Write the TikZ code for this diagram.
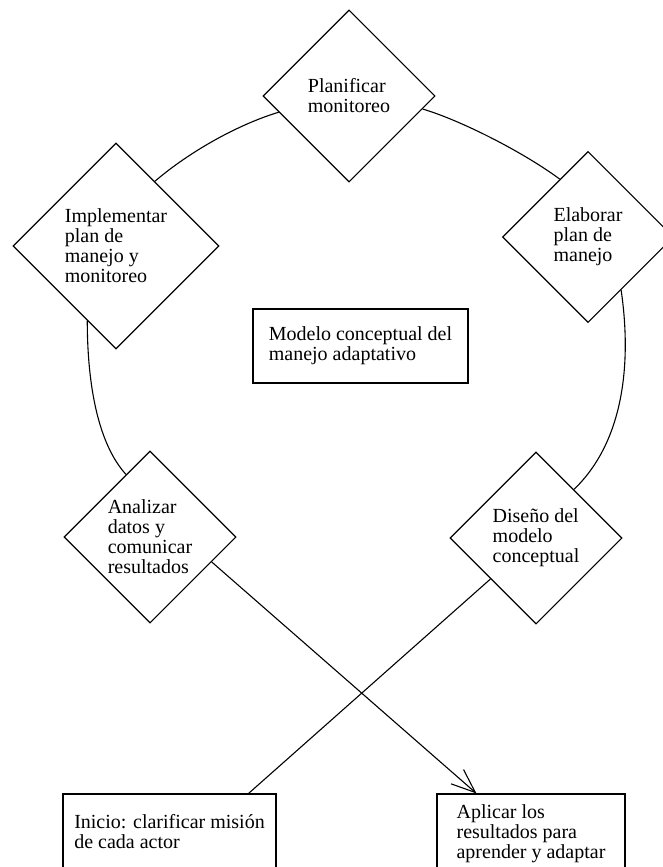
\documentclass[tikz,border=0pt]{standalone}
\usepackage{fontspec}
\setmainfont{Liberation Serif}
\usetikzlibrary{shapes.geometric,arrows.meta}
\begin{document}
\begin{tikzpicture}[x=1pt,y=-1pt,
  every node/.style={font=\fontsize{20}{20}\selectfont},
  dia/.style={draw, diamond, aspect=1, inner sep=0pt, align=left, line width=1.1pt},
  box/.style={draw, rectangle, align=left, inner sep=0pt, line width=1.1pt},
  conn/.style={line width=1.1pt}]
\useasboundingbox (0,0) rectangle (663,867);
\clip (0,0) rectangle (663,867);
\fill[white] (0,0) rectangle (663,867);
% diamonds
\node[dia, minimum width=172pt, minimum height=172pt] (plan) at (349,96) {Planificar\\monitoreo};
\node[dia, minimum width=206pt, minimum height=206pt] (impl) at (116,246) {Implementar\\plan de\\manejo y\\monitoreo};
\node[dia, minimum width=171pt, minimum height=171pt] (elab) at (588,237) {Elaborar\\plan de\\manejo};
\node[dia, minimum width=172pt, minimum height=172pt] (anal) at (150,537) {Analizar\\datos y\\comunicar\\resultados};
\node[dia, minimum width=172pt, minimum height=172pt] (dise) at (536,538) {Diseño del\\modelo\\conceptual};
% boxes
\node[box, minimum width=215pt, minimum height=74pt] (mod) at (360.5,346) {Modelo conceptual del\\manejo adaptativo};
\node[box, minimum width=213pt, minimum height=76pt] (ini) at (169.5,832) {Inicio: clarificar misión\\de cada actor};
\node[box, minimum width=188pt, minimum height=80pt] (apl) at (531,834) {Aplicar los\\resultados para\\aprender y adaptar};
% cycle arcs
\draw[conn] (impl.59) .. controls +(35,-30) and +(-40,12) .. (plan.193);
\draw[conn] (plan.350) .. controls +(40,12) and +(-35,-26) .. (elab.116);
\draw[conn] (elab.302) .. controls +(10,68) and +(52,-50) .. (dise.52);
\draw[conn] (impl.249) .. controls +(0,57) and +(-30,-33) .. (anal.111);
% crossing lines
\draw[conn, -{Straight Barb[length=24pt,width=19pt]}] (anal.338) -- ([xshift=40pt]apl.north west);
\draw[conn] (dise.222) -- ([xshift=-28pt]ini.north east);
\end{tikzpicture}
\end{document}
